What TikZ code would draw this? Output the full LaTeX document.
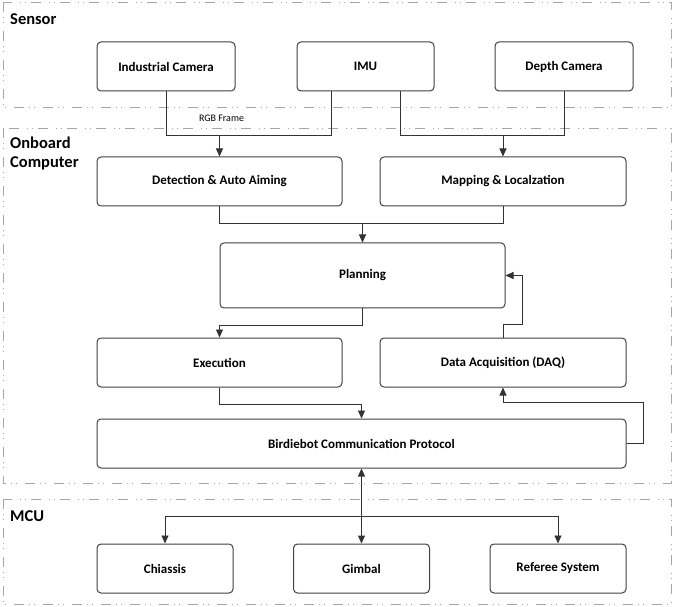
\documentclass[tikz,border=0pt]{standalone}
\usepackage{fontspec}
\setmainfont{Carlito}
\usetikzlibrary{arrows.meta,calc}

\begin{document}
\begin{tikzpicture}[
		x=1pt, y=-1pt,
		line cap=butt, line join=miter,
		group/.style={draw=black!35, line width=0.9pt,
				dash pattern=on 10pt off 5pt on 1pt off 4pt on 1pt off 8pt},
		grouplbl/.style={anchor=west, align=left, inner sep=0pt,
				font=\fontsize{16.5}{19}\selectfont\bfseries},
		box/.style={draw=black!75, line width=1pt, rounded corners=4pt,
				fill=white, minimum height=49pt, inner sep=0pt,
				font=\fontsize{13}{15}\selectfont\bfseries},
		wire/.style={draw=black!80, line width=0.9pt},
		arr/.style={wire, -{Triangle[length=8pt,width=7pt]}},
		arrtwo/.style={wire, line width=1.1pt,
				{Triangle[length=8pt,width=7pt]}-{Triangle[length=8pt,width=7pt]}},
		small/.style={font=\fontsize{10}{12}\selectfont, inner sep=1pt}]

	\useasboundingbox (0,0) rectangle (673,607);

	% ---- groups ----
	\draw[group] (3,2)   rectangle (671,107);
	\draw[group] (3,128) rectangle (671,483);
	\draw[group] (3,499) rectangle (671,604);
	\node[grouplbl] (lsensor)  at (10,19)    {Sensor};
	\node[grouplbl] (lonboard) at (10,153.5) {Onboard\\Computer};
	\node[grouplbl] (lmcu)     at (10,516)   {MCU};

	% ---- sensor ----
	\node[box, minimum width=138pt] (cam)   at (166,66.5)   {Industrial Camera};
	\node[box, minimum width=137pt] (imu)   at (365.5,66.5) {IMU};
	\node[box, minimum width=138pt] (depth) at (564,66.5)   {Depth Camera};

	% ---- onboard computer ----
	\node[box, minimum width=245pt] (det)  at (219.5,181.5) {Detection \& Auto Aiming};
	\node[box, minimum width=246pt] (map)  at (503,181.5)   {Mapping \& Localzation};
	\node[box, minimum width=285pt, minimum height=65pt] (plan) at (362.5,275.5) {Planning};
	\node[box, minimum width=245pt] (exe)  at (219.5,362.5) {Execution};
	\node[box, minimum width=246pt] (daq)  at (503,362.5)   {Data Acquisition (DAQ)};
	\node[box, minimum width=529pt] (comm) at (361.5,443.5) {Birdiebot Communication Protocol};

	% ---- mcu ----
	\node[box, minimum width=136pt] (chassis) at (165,568.5)   {Chiassis};
	\node[box, minimum width=136pt] (gimbal)  at (361.5,568.5) {Gimbal};
	\node[box, minimum width=136pt] (ref)     at (558,568.5)   {Referee System};

	% ---- sensor -> onboard ----
	\coordinate (imul) at ($(imu.south west)!0.25!(imu.south east)$);
	\coordinate (imur) at ($(imu.south west)!0.75!(imu.south east)$);
	\coordinate (jl) at (det.north |- 0,135);
	\coordinate (jr) at (map.north |- 0,135);
	\draw[wire] (cam.south) |- (jl);
	\draw[wire] (imul) |- (jl);
	\draw[arr] (jl) -- (det.north);
	\node[small] (rgb) at ($(jl)+(2,-17)$) {RGB Frame};
	\draw[wire] (imur) |- (jr);
	\draw[wire] (depth.south) |- (jr);
	\draw[arr] (jr) -- (map.north);

	% ---- inside onboard ----
	\coordinate (jp) at (plan.north |- 0,223);
	\draw[wire] (det.south) |- (jp);
	\draw[wire] (map.south) |- (jp);
	\draw[arr] (jp) -- (plan.north);
	\draw[arr] (plan.south) -- ++(0,17) -| (exe.north);
	\draw[arr] (daq.north) -- ++(0,-13) -| ($(plan.east)+(17,0)$) -- (plan.east);
	\draw[arr] (exe.south) -- ++(0,17) -| (comm.north);
	\draw[arr] (comm.east) -- ++(17,0) |- ($(daq.south)+(0,15)$) -- (daq.south);

	% ---- onboard <-> mcu ----
	\coordinate (bus) at (gimbal.north |- 0,516);
	\draw[arrtwo] (comm.south) -- (gimbal.north);
	\draw[arr] (bus) -| (chassis.north);
	\draw[arr] (bus) -| (ref.north);

\end{tikzpicture}
\end{document}
